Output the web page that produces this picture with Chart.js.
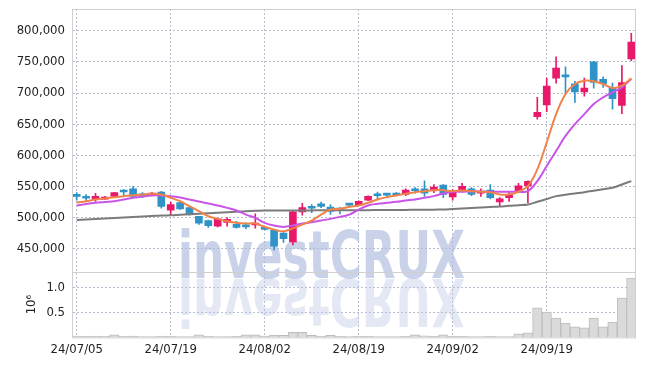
<!DOCTYPE html>
<html lang="en">
<head>
<meta charset="UTF-8">
<title>Candles</title>
<script src="https://cdn.jsdelivr.net/npm/chart.js"></script>
<style>
  html, body { margin: 0; padding: 0; background: #fff; }
</style>
</head>
<body>
<canvas id="myChart" width="645" height="366"></canvas>
<script>
const dates = ['24/07/05','24/07/08','24/07/09','24/07/10','24/07/11','24/07/12','24/07/15','24/07/16','24/07/17','24/07/18',
  '24/07/19','24/07/22','24/07/23','24/07/24','24/07/25','24/07/26','24/07/29','24/07/30','24/07/31','24/08/01',
  '24/08/02','24/08/05','24/08/06','24/08/07','24/08/08','24/08/09','24/08/12','24/08/13','24/08/14','24/08/16',
  '24/08/19','24/08/20','24/08/21','24/08/22','24/08/23','24/08/26','24/08/27','24/08/28','24/08/29','24/08/30',
  '24/09/02','24/09/03','24/09/04','24/09/05','24/09/06','24/09/09','24/09/10','24/09/11','24/09/12','24/09/13',
  '24/09/19','24/09/20','24/09/23','24/09/24','24/09/25','24/09/26','24/09/27','24/09/30','24/10/02','24/10/04'];

const opens = [535000,532000,530000,529500,534000,542000,546000,536000,536000,541000,
  512000,524000,516000,502000,495000,486000,492000,489000,486000,488000,
  484000,480000,475000,461000,509000,516000,522000,517000,513000,521000,
  520000,528000,536000,537000,538000,537000,544000,546000,544000,552000,
  533000,544000,546000,539000,544000,525000,532000,542000,551000,662000,
  681000,724000,727000,715000,702000,750000,722000,709000,680000,755000];
const highs = [540000,537000,539000,534000,540000,545000,550000,540000,540000,542000,
  525000,525000,517000,502000,496000,499000,500000,494000,491000,506000,
  486000,481000,476000,510000,523000,521000,525000,521000,516000,523000,
  527000,535000,541000,539000,540000,546000,548000,559000,553000,553000,
  545000,555000,548000,546000,553000,532000,540000,555000,559000,693000,
  724000,758000,742000,719000,724000,751000,726000,716000,744000,796000];
const lows = [528000,526000,526000,529000,532000,536000,533000,532000,535000,515000,
  503000,513000,504000,489000,484000,485000,486000,483000,482000,483000,
  480000,448000,460000,456000,504000,508000,516000,505000,506000,518000,
  519000,527000,530000,534000,535000,535000,539000,534000,540000,532000,
  528000,541000,535000,534000,530000,518000,526000,541000,524000,658000,
  670000,716000,698000,685000,695000,708000,709000,674000,667000,752000];
const closes = [534000,531000,534000,533000,540000,541000,534000,535000,539000,518000,
  521000,514000,506000,491000,487000,498000,497000,484000,485000,491000,
  481000,454000,466000,509000,516000,515000,518000,510000,512000,520000,
  526000,534000,535000,536000,536000,544000,543000,539000,549000,537000,
  542000,550000,537000,542000,532000,530000,537000,551000,558000,669000,
  711000,740000,726000,702000,708000,717000,715000,691000,717000,782000];
const volumes = [25000,20000,25000,20000,50000,20000,25000,15000,15000,25000,
  20000,15000,15000,50000,20000,15000,15000,20000,50000,50000,
  25000,45000,40000,100000,100000,40000,20000,40000,20000,15000,
  20000,20000,15000,15000,15000,20000,50000,30000,20000,50000,
  20000,20000,15000,15000,20000,15000,15000,70000,90000,594000,
  510000,390000,290000,210000,190000,390000,210000,310000,790000,1190000];

// moving average lines
const ma5 = [524200,526300,529000,530600,532700,534400,536000,537100,538200,537000,
  531800,526300,518200,510200,502100,497900,494000,491500,490300,490300,
  485000,480600,477900,482700,488700,495200,504800,512900,514000,517200,
  519400,523700,529000,532700,535500,538200,540800,542400,544000,544000,
  542400,543600,542400,541500,540800,537100,537100,541500,550500,577400,
  620500,666100,698400,714500,719900,718900,714500,708100,711800,723700];
const ma10 = [519400,521800,523700,525000,526300,529000,531800,533900,535500,535500,
  534400,532300,529000,525800,522600,519400,515600,511300,504800,499500,
  491500,487100,485000,487100,490300,492400,495200,497900,501100,504800,
  512900,519400,522100,523700,525300,527400,529000,531800,534400,538700,
  541500,541500,542400,541900,541500,541500,541500,541500,542400,558600,
  582700,606900,631100,650000,666100,682300,693100,701100,709200,722600];
const ma60 = [496000,496800,497600,498400,499200,500000,500800,501600,502400,503200,
  503700,504500,505300,506100,506900,507700,508500,509400,510200,510800,
  511300,511300,511400,511400,511500,511500,511600,511600,511700,511700,
  511800,511900,512000,512100,512200,512300,512400,512500,512700,512900,
  513700,514500,515300,516100,516900,517700,518900,519800,521000,525300,
  529800,534400,536600,538700,540800,543200,545500,547900,553200,558600];

const priceTicks = [450000, 500000, 550000, 600000, 650000, 700000, 750000, 800000];
const volumeTicks = [500000, 1000000];

const upColor = '#e8196b';
const downColor = '#2f93c8';
const gridColor = '#b9bdd0';
const tickFont = { family: '"DejaVu Sans Condensed", sans-serif', size: 13 };

const candleColors = closes.map((c, i) => c >= opens[i] ? upColor : downColor);
const bodies = opens.map((o, i) => [o, closes[i]]);
const wicks = lows.map((l, i) => [l, highs[i]]);
// vertical grid only at the labelled dates
const xGridColors = dates.map((d, i) => i % 10 === 0 ? gridColor : 'rgba(0,0,0,0)');

// y axes: fixed width, no extra padding from the edge tick labels
function fitLeft(s) {
  s.width = 72;
  s.paddingTop = 0;
  s.paddingBottom = 0;
}

const watermark = {
  id: 'watermark',
  beforeDatasetsDraw(chart) {
    const ctx = chart.ctx;
    const text = 'investCRUX';
    ctx.save();
    ctx.font = 'bold 66px "DejaVu Sans Condensed"';
    ctx.textBaseline = 'alphabetic';
    const sx = 287 / ctx.measureText(text).width;
    ctx.translate(178, 278);
    ctx.scale(sx, 1);
    ctx.fillStyle = 'rgba(172,186,220,0.65)';
    ctx.fillText(text, 0, 0);
    ctx.translate(0, 1);
    ctx.scale(1, -1);
    ctx.fillStyle = 'rgba(188,199,228,0.42)';
    ctx.fillText(text, 0, 0);
    ctx.restore();
  },
  afterDraw(chart) {
    const ctx = chart.ctx;
    const a = chart.chartArea;
    const sep = chart.scales.y.bottom;
    ctx.save();
    ctx.strokeStyle = '#cfcfcf';
    ctx.lineWidth = 1;
    ctx.strokeRect(a.left + 0.5, a.top + 0.5, a.right - a.left - 1, a.bottom - a.top);
    ctx.beginPath();
    ctx.moveTo(a.left, Math.round(sep) + 0.5);
    ctx.lineTo(a.right, Math.round(sep) + 0.5);
    ctx.stroke();
    ctx.restore();
  }
};

const ctx = document.getElementById('myChart').getContext('2d');
new Chart(ctx, {
  type: 'bar',
  data: {
    labels: dates,
    datasets: [
      { type: 'line', data: ma5, borderColor: '#f0834a', borderWidth: 2, pointRadius: 0, tension: 0.4, yAxisID: 'y', order: 1 },
      { type: 'line', data: ma10, borderColor: '#c954e8', borderWidth: 2, pointRadius: 0, tension: 0.4, yAxisID: 'y', order: 2 },
      { type: 'line', data: ma60, borderColor: '#7b7b7b', borderWidth: 2, pointRadius: 0, tension: 0.4, yAxisID: 'y', order: 3 },
      { data: bodies, backgroundColor: candleColors, barThickness: 7, minBarLength: 2, grouped: false, yAxisID: 'y', order: 4 },
      { data: wicks, backgroundColor: candleColors, barThickness: 1, grouped: false, yAxisID: 'y', order: 5 },
      { data: volumes, backgroundColor: '#dadada', borderColor: '#bcbcbc', borderWidth: 1, barPercentage: 1, categoryPercentage: 1, grouped: false, yAxisID: 'yVol', order: 6 }
    ]
  },
  options: {
    responsive: false,
    animation: false,
    layout: { padding: { top: 9, right: 9, left: 0, bottom: 5 } },
    plugins: { legend: { display: false }, tooltip: { enabled: false } },
    scales: {
      x: {
        offset: true,
        grid: { display: true, drawOnChartArea: true, offset: false, drawTicks: false, lineWidth: 1, color: xGridColors },
        border: { display: false, dash: [2, 2] },
        ticks: {
          autoSkip: false, maxRotation: 0, padding: 4, color: '#222', font: tickFont,
          callback: (v, i) => i % 10 === 0 ? dates[i] : ''
        }
      },
      yVol: {
        position: 'left', stack: 'panes', stackWeight: 1,
        min: 0, max: 1320000,
        afterFit: fitLeft,
        afterBuildTicks: s => { s.ticks = volumeTicks.map(v => ({ value: v })); },
        grid: { color: gridColor, drawTicks: false },
        border: { color: '#cfcfcf', dash: [2, 2] },
        title: { display: true, text: '10⁶', color: '#222', font: tickFont, padding: { top: 24, bottom: 0 } },
        ticks: { padding: 7, color: '#222', font: tickFont, callback: v => (v / 1e6).toFixed(1) }
      },
      y: {
        position: 'left', stack: 'panes', stackWeight: 4,
        min: 413000, max: 835000,
        afterFit: fitLeft,
        afterBuildTicks: s => { s.ticks = priceTicks.map(v => ({ value: v })); },
        grid: { color: gridColor, drawTicks: false },
        border: { color: '#cfcfcf', dash: [2, 2] },
        ticks: { padding: 7, color: '#222', font: tickFont, callback: v => v.toLocaleString('en-US') }
      }
    }
  },
  plugins: [watermark]
});
</script>
</body>
</html>
